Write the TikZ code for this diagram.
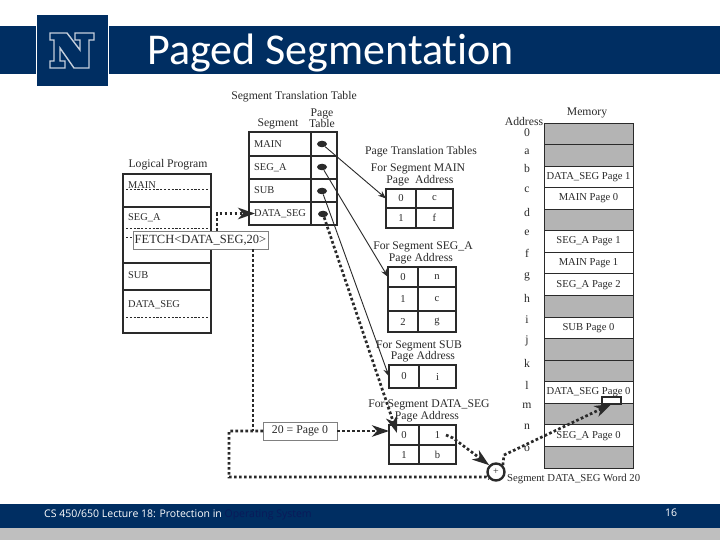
\documentclass[tikz,border=0pt]{standalone}
\usepackage{fontspec}
\setmainfont{Liberation Serif}
\newfontfamily\titlefont[Ligatures=NoCommon]{Carlito}
\newfontfamily\footfont{Open Sans}
\usetikzlibrary{arrows.meta,shapes.geometric}
\definecolor{navy}{HTML}{002E62}
\definecolor{memgray}{HTML}{B4B4B4}
\definecolor{footgray}{HTML}{BFBFBF}
\definecolor{logoline}{HTML}{C5CFDC}
\definecolor{dimblue}{HTML}{0A1A5A}
\definecolor{ink}{HTML}{2A2A2A}
% name, x1, y1, x2, y2, style, text
\newcommand{\pxbox}[7]{\node[pxcell,#6,minimum width={(#4-#2)*1pt},minimum height={(#5-#3)*1pt}] (#1) at ({(#2+#4)/2},{(#3+#5)/2}) {#7};}
\tikzset{
  pxcell/.style={draw=ink,inner sep=0pt,outer sep=0pt,font=\fontsize{10.6}{11}\selectfont,text=ink},
  thincell/.style={line width=1.2pt},
  frame/.style={draw=ink,line width=2.4pt},
  lprow/.style={draw=ink,line width=2.6pt,fill=white},
  lab/.style={inner sep=0pt,font=\fontsize{11.7}{11}\selectfont,text=ink},
  seglab/.style={inner sep=0pt,anchor=west,font=\fontsize{10.4}{11}\selectfont,text=ink},
  dashline/.style={draw=ink,line width=0.9pt,dash pattern=on 2.2pt off 1.6pt},
  dotline/.style={draw=ink,line width=2.7pt,dash pattern=on 2.7pt off 2.3pt},
  bigtip/.style={-{Stealth[length=17pt,width=11.5pt,inset=5pt]}},
  thinarrow/.style={draw=ink,line width=0.9pt,-{Stealth[length=8pt,width=6pt]}},
  ptdot/.style={draw=none,fill=ink,ellipse,minimum width=10pt,minimum height=6.5pt,inner sep=0pt},
}
\begin{document}
\begin{tikzpicture}[x=1pt,y=-1pt]
\useasboundingbox (0,0) rectangle (720,540);
\fill[white] (0,0) rectangle (720,540);
% header
\fill[navy] (0,26) rectangle (36,74.5);
\fill[navy] (109,26) rectangle (720,74.5);
\fill[navy] (37,15) rectangle (108,86);
\draw[logoline,line width=1.4pt,line join=miter,fill=navy]
  (50,33)--(67,33)--(80,50)--(80,40)--(75,40)--(75,33)--(94,33)--(94,40)--(89,40)--(89,68)--(74,68)
  --(60,48)--(60,61)--(65,61)--(65,68)--(50,68)--(50,61)--(54,61)--(54,40)--(50,40)--cycle;
\node[anchor=west,inner sep=0pt,text=white,font=\titlefont\fontsize{44}{46}\selectfont] (title) at (147,53) {Paged Segmentation};
% footer
\fill[navy] (0,504) rectangle (720,528);
\fill[footgray] (0,528) rectangle (720,540);
\node[anchor=west,inner sep=0pt,text=white,font=\footfont\fontsize{10.5}{12}\selectfont] (foot) at (44,515) {CS 450/650 Lecture 18: Protection in \textcolor{dimblue}{Operating System}};
\node[inner sep=0pt,text=white,font=\footfont\fontsize{10.5}{12}\selectfont] (pageno) at (671,513) {16};

% logical program
\node[lab] (lptitle) at (168,165) {Logical Program};
\pxbox{lpmain}{123}{174}{211}{207}{lprow}{}
\pxbox{lpsega}{123}{207}{211}{263}{lprow}{}
\pxbox{lpsub}{123}{263}{211}{290}{lprow}{}
\pxbox{lpdata}{123}{290}{211}{333}{lprow}{}
\node[seglab] (lpmaint) at (128,185) {MAIN};
\node[seglab] (lpsegat) at (128,218) {SEG\_A};
\node[seglab] (lpsubt) at (128,275) {SUB};
\node[seglab] (lpdatat) at (128,305) {DATA\_SEG};
\draw[dashline] (126,189)--(208,189);
\draw[dashline] (126,228)--(208,228);
\draw[dashline] (126,237)--(134,237);
\draw[dashline] (126,317)--(208,317);

% segment table
\node[lab] (sttitle) at (294,97) {Segment Translation Table};
\node[lab] (sthseg) at (278,124) {Segment};
\node[lab,align=center] (sthpt) at (322,118.5) {Page\\Table};
\foreach \n/\t/\a/\b in {segm/MAIN/132/156,sega/SEG\_A/156/179,segs/SUB/179/202,segd/DATA\_SEG/202/225}{
  \pxbox{\n}{249}{\a}{311}{\b}{thincell}{}
  \pxbox{\n p}{311}{\a}{337}{\b}{thincell}{}
  \node[seglab] (\n t) at (254,{(\a+\b)/2}) {\t};
}
\draw[frame,line width=1.8pt] (segm.north west) rectangle (segdp.south east);
\node[ptdot] (dotm) at (322,144) {};
\node[ptdot] (dota) at (322,167) {};
\node[ptdot] (dots) at (322,191) {};
\node[ptdot] (dotd) at (323,214) {};

% page tables
\node[lab] (pttitle) at (421,152) {Page Translation Tables};
\node[lab] (pmt1) at (418,169) {For Segment MAIN};
\node[lab] (pmt2) at (420,181) {Page\hspace{6pt}Address};
\pxbox{pm0}{386}{189}{416}{208}{thincell}{0}
\pxbox{pm0a}{416}{189}{453}{208}{thincell}{c}
\pxbox{pm1}{386}{208}{416}{228}{thincell}{1}
\pxbox{pm1a}{416}{208}{453}{228}{thincell}{f}
\draw[frame] (pm0.north west) rectangle (pm1a.south east);

\node[lab] (pat1) at (423,247) {For Segment SEG\_A};
\node[lab] (pat2) at (421,259) {Page\hspace{3pt}Address};
\pxbox{pa0}{388}{267}{418}{287}{thincell}{0}
\pxbox{pa0a}{418}{267}{456}{287}{thincell}{n}
\pxbox{pa1}{388}{287}{418}{311}{thincell}{1}
\pxbox{pa1a}{418}{287}{456}{311}{thincell}{c}
\pxbox{pa2}{388}{311}{418}{332}{thincell}{2}
\pxbox{pa2a}{418}{311}{456}{332}{thincell}{g}
\draw[frame] (pa0.north west) rectangle (pa2a.south east);

\node[lab] (pst1) at (419,346) {For Segment SUB};
\node[lab] (pst2) at (423,357) {Page\hspace{3pt}Address};
\pxbox{ps0}{389}{365}{419}{388}{thincell}{0}
\pxbox{ps0a}{419}{365}{456}{388}{thincell}{i}
\draw[frame] (ps0.north west) rectangle (ps0a.south east);

\node[lab] (pdt1) at (429,405) {For Segment DATA\_SEG};
\node[lab] (pdt2) at (427,417) {Page\hspace{3pt}Address};
\pxbox{pd0}{389}{425}{419}{445}{thincell}{0}
\pxbox{pd0a}{419}{425}{456}{445}{thincell}{1}
\pxbox{pd1}{389}{445}{419}{464}{thincell}{1}
\pxbox{pd1a}{419}{445}{456}{464}{thincell}{b}
\draw[frame] (pd0.north west) rectangle (pd1a.south east);

% memory
\node[lab] (addrt) at (524,121) {Address};
\node[lab] (memt) at (587,113) {Memory};
\foreach \i/\t/\c in {0//memgray,1//memgray,2/DATA\_SEG Page 1/white,3/MAIN Page 0/white,4//memgray,5/SEG\_A Page 1/white,6/MAIN Page 1/white,7/SEG\_A Page 2/white,8//memgray,9/SUB Page 0/white,10//memgray,11//memgray,12/DATA\_SEG Page 0/white,13//memgray,14/SEG\_A Page 0/white,15//memgray}{
  \pxbox{mem\i}{544}{(123+21.56*\i)}{633}{(123+21.56*(\i+1))}{fill=\c,line width=0.9pt}{\t}
}
\foreach \t/\y in {0/133,a/152,b/168,c/190,d/212,e/233,f/253,g/277,h/298,i/320,j/341,k/363,l/385,m/406,n/427,o/449}{
  \node[lab] (addr\t) at (527,\y) {\t};
}
\node[lab,anchor=west,font=\fontsize{10.7}{11}\selectfont] (wordt) at (507,479) {Segment DATA\_SEG Word 20};
\pxbox{word}{602}{397}{621}{404}{fill=white,line width=1.8pt}{}

% boxes on the dotted path
\pxbox{fetch}{133}{231}{268}{249}{fill=white,line width=0.6pt,draw=gray,font=\fontsize{12.5}{13}\selectfont}{FETCH<DATA\_SEG,20>}
\pxbox{pagebox}{263}{422}{337}{440}{fill=white,line width=0.6pt,draw=gray,font=\fontsize{11.8}{12}\selectfont}{20 = Page 0}
\node[circle,draw=ink,line width=2.4pt,fill=white,minimum size=17pt,inner sep=0pt,font=\fontsize{10}{10}\selectfont,text=ink] (adder) at (496,472) {+};

% named free ends
\coordinate (fout) at (217,231);
\coordinate (fdown) at (253,249);
\coordinate (loopa) at (229,431);
\coordinate (loopb) at (229,477);
\coordinate (dstart) at (446,435);
\coordinate (dbend) at (453,438);
\coordinate (mout) at (504,455);

% thin pointers
\draw[thinarrow] (dotm) -- (pm0.west);
\draw[thinarrow] (dota) -- (pa0.west);
\draw[thinarrow] (dots) -- (ps0.west);

% dotted paths
\draw[dotline,bigtip] (fout) |- ([xshift=6pt]segd.west);
\draw[dotline] (fdown) -- (fdown |- pagebox.west);
\draw[dotline] (pagebox.west) -- (loopa) -- (loopb) -- (adder.west |- loopb) -- (adder.south west);
\draw[dotline,bigtip] (pagebox.east) -- (pd0.north west |- pagebox.east);
\draw[dotline,bigtip] (dotd) -- ([shift={(8pt,2pt)}]pd0.west);
\draw[dotline,bigtip] (dstart) -- (dbend) -- (adder.north west);
\draw[dotline] (adder.north east) -- (mout);
\draw[dotline,bigtip] (mout) -- (word.south);
\end{tikzpicture}
\end{document}
